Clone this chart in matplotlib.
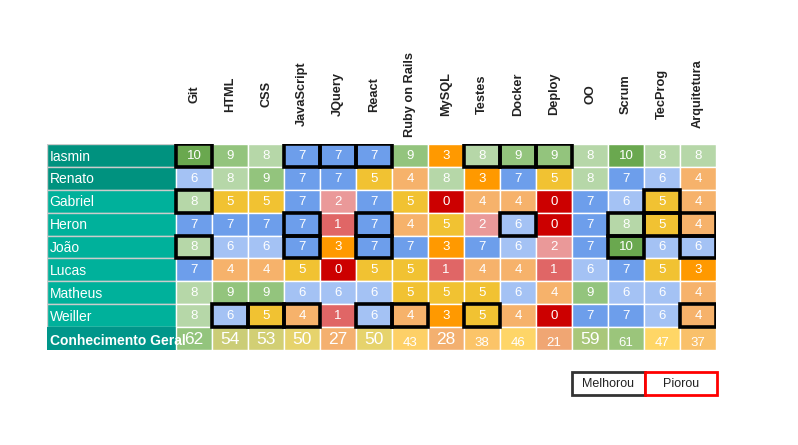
import matplotlib
matplotlib.use("Agg")
import matplotlib.pyplot as plt
from matplotlib.patches import Rectangle

plt.rcParams['font.family'] = ['Liberation Sans', 'DejaVu Sans']

skills = ["Git", "HTML", "CSS", "JavaScript", "JQuery", "React", "Ruby on Rails",
          "MySQL", "Testes", "Docker", "Deploy", "OO", "Scrum", "TecProg", "Arquitetura"]
people = ["Iasmin", "Renato", "Gabriel", "Heron", "João", "Lucas", "Matheus", "Weiller"]
scores = [
    [10, 9, 8, 7, 7, 7, 9, 3, 8, 9, 9, 8, 10, 8, 8],
    [6, 8, 9, 7, 7, 5, 4, 8, 3, 7, 5, 8, 7, 6, 4],
    [8, 5, 5, 7, 2, 7, 5, 0, 4, 4, 0, 7, 6, 5, 4],
    [7, 7, 7, 7, 1, 7, 4, 5, 2, 6, 0, 7, 8, 5, 4],
    [8, 6, 6, 7, 3, 7, 7, 3, 7, 6, 2, 7, 10, 6, 6],
    [7, 4, 4, 5, 0, 5, 5, 1, 4, 4, 1, 6, 7, 5, 3],
    [8, 9, 9, 6, 6, 6, 5, 5, 5, 6, 4, 9, 6, 6, 4],
    [8, 6, 5, 4, 1, 6, 4, 3, 5, 4, 0, 7, 7, 6, 4],
]
total_label = "Conhecimento Geral"
totals = [62, 54, 53, 50, 27, 50, 43, 28, 38, 46, 21, 59, 61, 47, 37]
totals_big = [True, True, True, True, True, True, False, True, False, False, False, True, False, False, False]
# cells marked "Melhorou" (row, col)
improved = [(0, 0), (0, 3), (0, 4), (0, 5), (0, 8), (0, 9), (0, 10),
            (2, 0), (2, 13),
            (3, 3), (3, 5), (3, 9), (3, 12), (3, 13), (3, 14),
            (4, 0), (4, 3), (4, 5), (4, 12), (4, 14),
            (7, 1), (7, 2), (7, 3), (7, 5), (7, 6), (7, 8), (7, 14)]
worsened = []
legend_labels = ["Melhorou", "Piorou"]

score_colors = {10: "#6aa84f", 9: "#93c47d", 8: "#b6d7a8", 7: "#6d9eeb", 6: "#a4c2f4",
                5: "#f1c232", 4: "#f6b26b", 3: "#ff9900", 2: "#ea9999", 1: "#e06666", 0: "#cc0000"}
total_colors = ["#93c47d", "#cbcd77", "#d2cf74", "#e6d36c", "#f4b06f", "#e6d36c", "#fdd067",
                "#f3b070", "#fbc468", "#fed567", "#f0a673", "#a9c77a", "#9bc57b", "#ffd666", "#f9c06a"]

W, H = 798, 445
fig = plt.figure(figsize=(W / 100, H / 100), dpi=100)
left_px, right_px, top_px, bot_px = 47, 716, 144, 350
ax = fig.add_axes([left_px / W, 1 - bot_px / H, (right_px - left_px) / W, (bot_px - top_px) / H])
name_w = (176 - 47) / 36.0
nrows = len(people) + 1
ax.set_xlim(-name_w, len(skills))
ax.set_ylim(nrows, 0)
ax.axis("off")

dark_teal = "#00927f"
light_teal = "#00b19b"

# name column
for i, p in enumerate(people):
    bg = dark_teal if i < 2 else light_teal
    ax.add_patch(Rectangle((-name_w, i), name_w, 1, facecolor=bg, edgecolor="#cccccc", lw=1))
    ax.text(-name_w + 0.07, i + 0.55, p, color="white", fontsize=10, va="center", ha="left")
r = len(people)
rect = Rectangle((-name_w, r), name_w, 1, facecolor="#00968a", edgecolor="none")
ax.add_patch(rect)
t = ax.text(-name_w + 0.07, r + 0.6, total_label, color="white", fontsize=10,
            fontweight="bold", va="center", ha="left")
t.set_clip_path(rect)

# score cells
for i, row in enumerate(scores):
    for j, v in enumerate(row):
        ax.add_patch(Rectangle((j, i), 1, 1, facecolor=score_colors[v], edgecolor="white", lw=1))
        ax.text(j + 0.5, i + 0.52, str(v), color="white", fontsize=9.5, ha="center", va="center")

# totals row
for j, v in enumerate(totals):
    ax.add_patch(Rectangle((j, r), 1, 1, facecolor=total_colors[j], edgecolor="white", lw=1))
    if totals_big[j]:
        ax.text(j + 0.5, r + 0.55, str(v), color="white", fontsize=12.5, ha="center", va="center")
    else:
        ax.text(j + 0.5, r + 0.68, str(v), color="white", fontsize=9.5, ha="center", va="center")

# highlight borders
for (i, j) in improved:
    ax.add_patch(Rectangle((j, i), 1, 1, facecolor="none", edgecolor="black", lw=2.6, zorder=5))
for (i, j) in worsened:
    ax.add_patch(Rectangle((j, i), 1, 1, facecolor="none", edgecolor="red", lw=2.6, zorder=5))

# headers
for j, s in enumerate(skills):
    ax.text(j + 0.5, -2.18, s, rotation=90, ha="center", va="center", fontsize=9.2,
            fontweight="bold", color="#222222", clip_on=False)

# legend
ly = nrows + 0.95
ax.add_patch(Rectangle((11.0, ly), 2.02, 1.0, facecolor="white", edgecolor="#333333", lw=2, clip_on=False))
ax.add_patch(Rectangle((13.02, ly), 2.0, 1.0, facecolor="white", edgecolor="#ff0000", lw=2, clip_on=False))
ax.text(12.01, ly + 0.55, legend_labels[0], ha="center", va="center", fontsize=9, color="#222222", clip_on=False)
ax.text(14.02, ly + 0.55, legend_labels[1], ha="center", va="center", fontsize=9, color="#222222", clip_on=False)

fig.savefig("out.png", dpi=100)
